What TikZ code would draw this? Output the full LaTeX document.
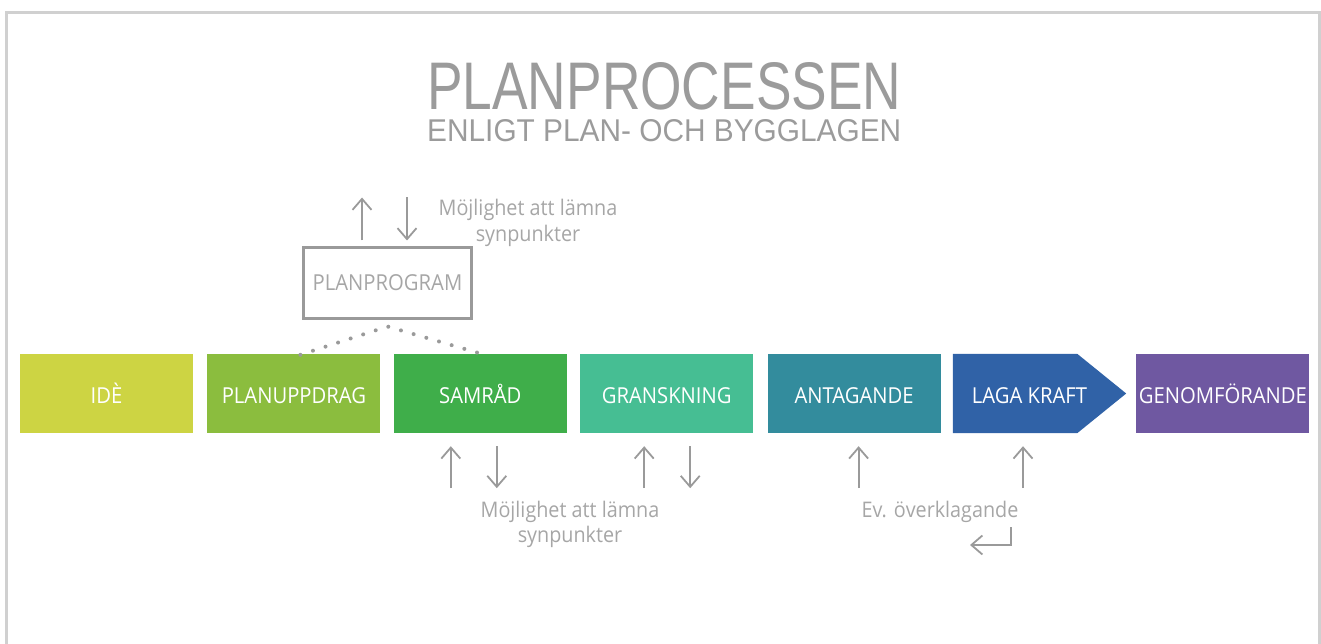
\documentclass[tikz,border=0pt]{standalone}
\usepackage{fontspec}
\usepackage{graphicx}
\usetikzlibrary{positioning,arrows.meta,backgrounds}
\newfontfamily\rubrik{Liberation Sans}
\newfontfamily\etikett[FakeStretch=0.92]{Open Sans}
\definecolor{ide}{HTML}{CDD443}
\definecolor{uppdrag}{HTML}{8BBD3E}
\definecolor{samrad}{HTML}{3FAE4A}
\definecolor{gransk}{HTML}{46BE93}
\definecolor{antag}{HTML}{338C9D}
\definecolor{laga}{HTML}{3062A7}
\definecolor{genom}{HTML}{6F58A1}
\definecolor{rubrikgra}{HTML}{9B9B9B}
\definecolor{textgra}{HTML}{A6A6A6}
\definecolor{pilgra}{HTML}{9A9A9A}
\definecolor{ramgra}{HTML}{D0D0D0}
\begin{document}
\begin{tikzpicture}[x=1pt,y=-1pt,
steg/.style={minimum width=173pt,minimum height=79pt,inner sep=0pt,text height=19pt,text depth=0pt,text=white,font=\etikett\fontsize{22}{22}\selectfont},
pil/.style={draw=pilgra,line width=1.8pt,-{Straight Barb[length=11pt,width=19pt]}},
info/.style={text=textgra,align=center,font=\etikett\fontsize{21.5}{25}\selectfont},
prick/.style={draw=pilgra,line width=4pt,line cap=round,dash pattern=on 0pt off 13.2pt}
]
\useasboundingbox (0,0) rectangle (1321,644);
\draw[ramgra,line width=2.4pt] (6.5,644) -- (6.5,12.5) -- (1319.5,12.5) -- (1319.5,644);
% rubrik
\node[anchor=north west,inner sep=0pt,text=rubrikgra] (titel) at (427,62) {\resizebox{474pt}{47pt}{\rubrik PLANPROCESSEN}};
\node[anchor=north west,inner sep=0pt,text=rubrikgra] (undertitel) at (427,119) {\resizebox{474pt}{22pt}{\rubrik ENLIGT PLAN- OCH BYGGLAGEN}};
% stegen
\node[steg,fill=ide] (ide) at (106.5,393.5) {IDÈ};
\node[steg,fill=uppdrag,right=14pt of ide] (uppdrag) {PLANUPPDRAG};
\node[steg,fill=samrad,right=13pt of uppdrag] (samrad) {SAMRÅD};
\node[steg,fill=gransk,right=13pt of samrad] (gransk) {GRANSKNING};
\node[steg,fill=antag,right=14pt of gransk] (antag) {ANTAGANDE};
\node[steg,right=12pt of antag] (laga) {\hspace*{-20pt}LAGA KRAFT};
\begin{scope}[on background layer]
\fill[laga] (laga.north west) -- ([xshift=-49pt]laga.north east) -- (laga.east) -- ([xshift=-49pt]laga.south east) -- (laga.south west) -- cycle;
\end{scope}
\node[steg,fill=genom,right=10pt of laga] (genom) {GENOMFÖRANDE};
% planprogram
\node[draw=pilgra,line width=3pt,minimum width=168pt,minimum height=71pt,inner sep=0pt,text=textgra,font=\etikett\fontsize{22}{22}\selectfont] (prog) at (387.5,283) {PLANPROGRAM};
\draw[prick] ([shift={(6.5,1)}]uppdrag.north) -- ([shift={(0,6.5)}]prog.south) -- ([shift={(4.5,1)}]samrad.north);
\draw[pil] ([shift={(-25.5,-5.5)}]prog.north) -- ++(0,-43);
\draw[pil] ([shift={(19.5,-48.5)}]prog.north) -- ++(0,43);
\node[info,anchor=base] (synp1) at (528,241) {Möjlighet att lämna\\synpunkter};
% synpunkter och överklagande
\draw[pil] ([shift={(-29.5,55)}]samrad.south) -- ++(0,-42);
\draw[pil] ([shift={(16.5,13)}]samrad.south) -- ++(0,42);
\draw[pil] ([shift={(-22.5,55)}]gransk.south) -- ++(0,-42);
\draw[pil] ([shift={(23.5,13)}]gransk.south) -- ++(0,42);
\node[info,anchor=base] (synp2) at (570,542) {Möjlighet att lämna\\synpunkter};
\draw[pil] ([shift={(4.5,55)}]antag.south) -- ++(0,-42);
\draw[pil] ([shift={(-16.5,55)}]laga.south) -- ++(0,-42);
\node[info,anchor=base] (overkl) at (940,517) {Ev. överklagande};
\draw[pil] ([shift={(71,10)}]overkl.base) -- ++(0,18) -- ++(-41,0);
\end{tikzpicture}
\end{document}
